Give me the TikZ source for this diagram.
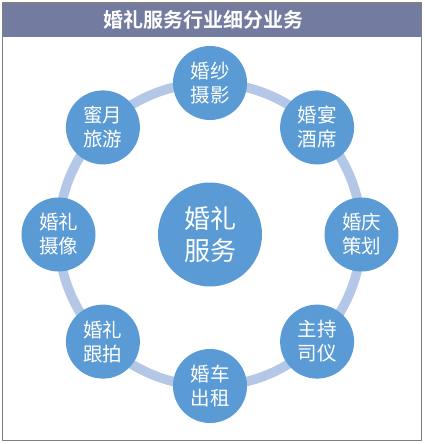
\documentclass[tikz,border=0pt]{standalone}
\usepackage{fontspec}
\newfontfamily\cjk{Noto Sans CJK SC}
\newfontfamily\cjkb{Noto Sans CJK SC Bold}
\definecolor{hdr}{HTML}{737CA0}
\definecolor{nodeblue}{HTML}{5B9BD5}
\definecolor{ringblue}{HTML}{B4C7E7}
\definecolor{frame}{HTML}{808080}
\begin{document}
\begin{tikzpicture}[x=1pt,y=-1pt,
  small/.style={circle,fill=nodeblue,minimum size=74pt,inner sep=0pt,text=white,
    align=center,font=\cjk\fontsize{19.5}{24}\selectfont},
  big/.style={circle,fill=nodeblue,minimum size=104pt,inner sep=0pt,text=white,
    align=center,font=\cjk\fontsize{26}{32}\selectfont}]
\useasboundingbox (0,0) rectangle (425,444);
\fill[white] (0,0) rectangle (425,444);
\fill[hdr] (2.5,3) rectangle (421.5,37);
\draw[frame,line width=1.2pt] (2.5,3) rectangle (421.5,440.5);
\node[text=white,font=\cjkb\fontsize{20}{22}\selectfont] (title) at (203,20) {婚礼服务行业细分业务};
\coordinate (c) at (210,234.5);
\draw[ringblue,line width=9.5pt] (c) circle (151.5);
\node[big] (center) at (c) {婚礼\\服务};
\node[small] (n1) at (210,83) {婚纱\\摄影};
\node[small] (n2) at (317.1,127.4) {婚宴\\酒席};
\node[small] (n3) at (361.5,234.5) {婚庆\\策划};
\node[small] (n4) at (317.1,341.6) {主持\\司仪};
\node[small] (n5) at (210,386) {婚车\\出租};
\node[small] (n6) at (102.9,341.6) {婚礼\\跟拍};
\node[small] (n7) at (58.5,234.5) {婚礼\\摄像};
\node[small] (n8) at (102.9,127.4) {蜜月\\旅游};
\end{tikzpicture}
\end{document}
